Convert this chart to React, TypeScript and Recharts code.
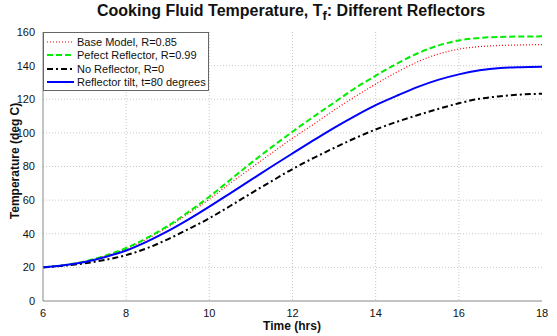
import React from "react";
import {
  LineChart,
  Line,
  XAxis,
  YAxis,
  CartesianGrid,
} from "recharts";

const hours = [
  6, 6.5, 7, 7.5, 8, 8.5, 9, 9.5, 10, 10.5, 11, 11.5, 12, 12.5, 13, 13.5, 14, 14.5, 15, 15.5, 16,
  16.5, 17, 17.5, 18,
];
const baseModel = [
  20, 21.3, 23.4, 26.7, 31, 36.9, 43.9, 52, 60.5, 70, 79, 88, 96.8, 105, 113.5, 121.5, 129, 136,
  142.2, 146.8, 149.8, 151.3, 152, 152.3, 152.5,
];
const perfect = [
  20, 21.3, 23.5, 27, 31.5, 37.5, 44.6, 53, 62, 72, 82, 91.5, 100.7, 109.5, 118, 126.5, 134, 141,
  147.2, 151.9, 155, 156.5, 157.1, 157.3, 157.4,
];
const noReflector = [
  20, 21, 22.4, 24.5, 27.3, 31.4, 36.7, 42.8, 49.2, 56.5, 64, 71.3, 78.5, 85, 91, 96.8, 102, 106.5,
  110.5, 114.2, 117.6, 120.3, 121.8, 122.8, 123.3,
];
const tilt = [
  20, 21.2, 23.2, 26.2, 30, 35.3, 41.5, 48.5, 56.1, 64, 72, 80, 87.8, 95.5, 103, 110, 116.5, 122,
  127.2, 131.5, 134.8, 137.2, 138.6, 139.1, 139.3,
];

const xTicks = [6, 8, 10, 12, 14, 16, 18];
const yTicks = [0, 20, 40, 60, 80, 100, 120, 140, 160];

const seriesInfo = [
  { key: "base", name: "Base Model, R=0.85", color: "#ff0000", dash: "1 2", width: 1.2 },
  { key: "perfect", name: "Pefect Reflector, R=0.99", color: "#00ee00", dash: "6 3", width: 2 },
  { key: "none", name: "No Reflector, R=0", color: "#000000", dash: "6 3 2 3", width: 2 },
  { key: "tilt", name: "Reflector tilt, t=80 degrees", color: "#0000ff", dash: undefined, width: 2 },
];

const data = hours.map((h, i) => ({
  h,
  base: baseModel[i],
  perfect: perfect[i],
  none: noReflector[i],
  tilt: tilt[i],
}));

const font = "Arial, 'Liberation Sans', sans-serif";
const tickStyle = { fontSize: 11, fill: "#111", fontFamily: font };

function LegendBox() {
  return (
    <div
      style={{
        position: "absolute",
        left: 43,
        top: 32,
        width: 166,
        height: 59,
        background: "#fff",
        border: "1px solid #666",
        boxSizing: "border-box",
        fontFamily: font,
        fontSize: 11,
        color: "#111",
        paddingTop: 2,
      }}
    >
      {seriesInfo.map((s) => (
        <div key={s.key} style={{ display: "flex", alignItems: "center", height: 13.5 }}>
          <svg width={30} height={8} style={{ marginLeft: 2 }}>
            <line
              x1={1}
              y1={4}
              x2={28}
              y2={4}
              stroke={s.color}
              strokeWidth={s.width}
              strokeDasharray={s.dash}
            />
          </svg>
          <span style={{ marginLeft: 1, whiteSpace: "nowrap" }}>{s.name}</span>
        </div>
      ))}
    </div>
  );
}

export default function App() {
  return (
    <div style={{ position: "relative", width: 557, height: 336, background: "#fff" }}>
      <style>{"body{margin:0}"}</style>
      <div
        style={{
          position: "absolute",
          top: 2,
          left: 0,
          width: 582,
          textAlign: "center",
          fontFamily: font,
          fontWeight: "bold",
          fontSize: 16,
          color: "#111",
        }}
      >
        Cooking Fluid Temperature, T<sub style={{ fontSize: 13 }}>f</sub>: Different Reflectors
      </div>
      <LineChart
        width={557}
        height={336}
        data={data}
        margin={{ top: 32, right: 15, bottom: 15, left: 13 }}
      >
        <CartesianGrid
          stroke="#c8c8c8"
          strokeDasharray="1 2"
          horizontalValues={[20, 40, 60, 80, 100, 120, 140]}
          verticalValues={[8, 10, 12, 14, 16]}
        />
        <XAxis
          dataKey="h"
          type="number"
          domain={[6, 18]}
          ticks={xTicks}
          height={20}
          tick={tickStyle}
          tickLine={false}
          tickMargin={2}
          axisLine={{ stroke: "#888" }}
        />
        <XAxis
          xAxisId="top"
          orientation="top"
          dataKey="h"
          type="number"
          domain={[6, 18]}
          height={0}
          tick={false}
          tickLine={false}
          axisLine={{ stroke: "#888" }}
        />
        <YAxis
          type="number"
          domain={[0, 160]}
          ticks={yTicks}
          width={30}
          tick={tickStyle}
          tickLine={false}
          tickMargin={2}
          axisLine={{ stroke: "#888" }}
        />
        <YAxis
          yAxisId="right"
          orientation="right"
          type="number"
          domain={[0, 160]}
          width={0}
          tick={false}
          tickLine={false}
          axisLine={{ stroke: "#888" }}
        />
        {seriesInfo.map((s) => (
          <Line
            key={s.key}
            dataKey={s.key}
            name={s.name}
            type="monotone"
            stroke={s.color}
            strokeWidth={s.width}
            strokeDasharray={s.dash}
            dot={false}
            isAnimationActive={false}
          />
        ))}
      </LineChart>
      <LegendBox />
      <div
        style={{
          position: "absolute",
          top: 319,
          left: 292,
          transform: "translateX(-50%)",
          fontFamily: font,
          fontWeight: "bold",
          fontSize: 12,
          color: "#111",
          whiteSpace: "nowrap",
        }}
      >
        Time (hrs)
      </div>
      <div
        style={{
          position: "absolute",
          top: 161,
          left: 15,
          transform: "translate(-50%, -50%) rotate(-90deg)",
          fontFamily: font,
          fontWeight: "bold",
          fontSize: 12,
          color: "#111",
          whiteSpace: "nowrap",
        }}
      >
        Temperature (deg C)
      </div>
    </div>
  );
}
